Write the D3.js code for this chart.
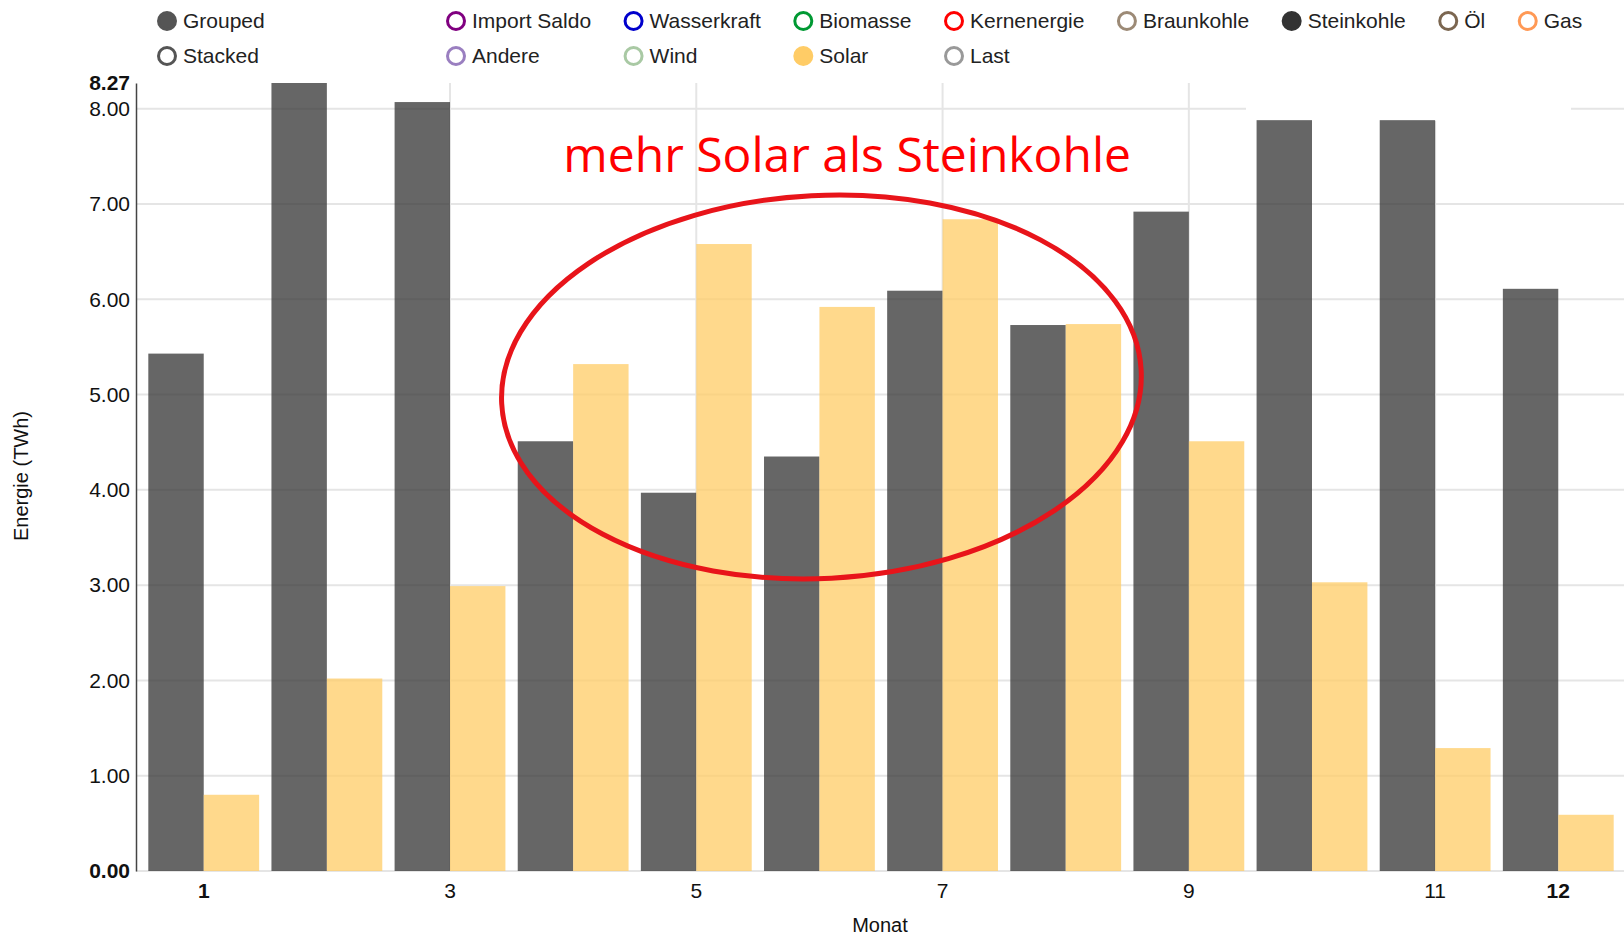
<!DOCTYPE html>
<meta charset="utf-8">

<style>
  body { margin: 0; background: #fff; }
  text { font-family: "Liberation Sans", Arial, sans-serif; }
  .grid line { stroke: #e5e5e5; stroke-width: 2px; }
  .tick text { font-size: 21px; fill: #111; }
</style>

<body>
  <div id="chart"></div>

  <script src="https://d3js.org/d3.v7.min.js"></script>
  <script>

    // data (TWh per month)
    var months = ["1", "2", "3", "4", "5", "6", "7", "8", "9", "10", "11", "12"];
    var steinkohle = [5.43, 8.27, 8.07, 4.51, 3.97, 4.35, 6.09, 5.73, 6.92, 7.88, 7.88, 6.11];
    var solar = [0.80, 2.02, 2.99, 5.32, 6.58, 5.92, 6.84, 5.74, 4.51, 3.03, 1.29, 0.59];
    var seriesNames = ["Steinkohle", "Solar"];
    var seriesColors = ["#333333", "#ffcc66"];

    var yTicks = [1, 2, 3, 4, 5, 6, 7, 8];
    var xTicks = ["3", "5", "7", "9", "11"];

    // legend
    var controlNames = ["Grouped", "Stacked"];
    var legendRow1 = ["Import Saldo", "Wasserkraft", "Biomasse", "Kernenergie", "Braunkohle", "Steinkohle", "Öl", "Gas"];
    var legendRow2 = ["Andere", "Wind", "Solar", "Last"];
    var legendColors = {
      "Import Saldo": "#800080", "Wasserkraft": "#0000cc", "Biomasse": "#009933",
      "Kernenergie": "#ff0000", "Braunkohle": "#9c8a76", "Steinkohle": "#333333",
      "Öl": "#7b6650", "Gas": "#ff9955", "Andere": "#9a7fc0", "Wind": "#a9c9a4",
      "Solar": "#ffcc66", "Last": "#999999"
    };

    var annotation = "mehr Solar als Steinkohle";

    var W = 1624, H = 938;
    var margin = { top: 83, left: 136, bottom: 67, right: -2 };

    var svg = d3.select("#chart").append("svg")
      .attr("width", W)
      .attr("height", H);

    var x = d3.scaleBand()
      .domain(months)
      .range([margin.left, W - margin.right])
      .paddingInner(0.1)
      .paddingOuter(0.1);

    var x1 = d3.scaleBand()
      .domain(seriesNames)
      .range([0, x.bandwidth()]);

    var yMax = d3.max(steinkohle.concat(solar));
    var y = d3.scaleLinear()
      .domain([0, yMax])
      .range([H - margin.bottom, margin.top]);

    // grid lines
    var grid = svg.append("g").attr("class", "grid");
    grid.selectAll(".h")
      .data([0].concat(yTicks))
      .enter().append("line")
      .attr("x1", margin.left).attr("x2", W)
      .attr("y1", d => y(d)).attr("y2", d => y(d));
    grid.selectAll(".v")
      .data(xTicks)
      .enter().append("line")
      .attr("x1", d => x(d) + x.bandwidth() / 2).attr("x2", d => x(d) + x.bandwidth() / 2)
      .attr("y1", y(yMax)).attr("y2", y(0));

    // white patch over the top grid line (as in the original)
    svg.append("rect")
      .attr("x", 1246).attr("y", 76)
      .attr("width", 325).attr("height", 45)
      .attr("fill", "#fff");

    // bars
    var rows = months.map(function (m, i) {
      return { month: m, values: [steinkohle[i], solar[i]] };
    });

    var groups = svg.append("g").selectAll("g")
      .data(rows)
      .enter().append("g")
      .attr("transform", d => "translate(" + x(d.month) + ",0)");

    groups.selectAll("rect")
      .data(d => d.values.map((v, k) => ({ key: seriesNames[k], value: v, color: seriesColors[k] })))
      .enter().append("rect")
      .attr("x", d => x1(d.key))
      .attr("width", x1.bandwidth())
      .attr("y", d => y(d.value))
      .attr("height", d => y(0) - y(d.value))
      .attr("fill", d => d.color)
      .attr("fill-opacity", 0.75);

    // y axis
    var yAxis = svg.append("g")
      .attr("transform", "translate(" + margin.left + ",0)")
      .call(d3.axisLeft(y).tickValues(yTicks).tickSize(0).tickPadding(6).tickFormat(d3.format(".2f")));
    yAxis.select(".domain").attr("stroke", "#444").attr("stroke-width", 1.5);

    [0, yMax].forEach(function (v) {
      yAxis.append("text")
        .attr("x", -6).attr("y", y(v)).attr("dy", "0.32em")
        .attr("text-anchor", "end")
        .style("font-size", "21px").style("font-weight", "bold").attr("fill", "#111")
        .text(d3.format(".2f")(v));
    });

    // x axis
    var xAxis = svg.append("g")
      .attr("transform", "translate(0," + y(0) + ")")
      .call(d3.axisBottom(x).tickValues(xTicks).tickSize(0).tickPadding(12));
    xAxis.select(".domain").remove();

    [months[0], months[months.length - 1]].forEach(function (m) {
      xAxis.append("text")
        .attr("x", x(m) + x.bandwidth() / 2).attr("y", 12).attr("dy", "0.71em")
        .attr("text-anchor", "middle")
        .style("font-size", "21px").style("font-weight", "bold").attr("fill", "#111")
        .text(m);
    });

    // axis titles
    svg.append("text")
      .attr("transform", "translate(22," + 476 + ") rotate(-90)")
      .attr("text-anchor", "middle").attr("dy", "0.32em")
      .style("font-size", "20px").attr("fill", "#111")
      .text("Energie (TWh)");

    svg.append("text")
      .attr("x", 880).attr("y", 932)
      .attr("text-anchor", "middle")
      .style("font-size", "20px").attr("fill", "#111")
      .text("Monat");

    // legend: controls
    var legend = svg.append("g");
    controlNames.forEach(function (name, i) {
      var cy = 21 + i * 35;
      legend.append("circle")
        .attr("cx", 167).attr("cy", cy).attr("r", 8.5)
        .attr("fill", i === 0 ? "#555" : "#fff")
        .attr("stroke", "#555").attr("stroke-width", 3);
      legend.append("text")
        .attr("x", 183).attr("y", cy).attr("dy", "0.32em")
        .style("font-size", "21px").attr("fill", "#222")
        .text(name);
    });

    // legend: series, laid out in columns
    var legendRows = [legendRow1, legendRow2];
    var items = [];
    legendRows.forEach(function (row, r) {
      row.forEach(function (name, c) {
        var t = legend.append("text")
          .attr("y", 21 + r * 35).attr("dy", "0.32em")
          .style("font-size", "21px").attr("fill", "#222")
          .text(name);
        items.push({ name: name, row: r, col: c, text: t, w: t.node().getComputedTextLength() });
      });
    });

    var colX = [456];
    for (var c = 0; c < legendRow1.length - 1; c++) {
      var w = d3.max(items.filter(d => d.col === c), d => d.w);
      colX.push(colX[c] + 16 + w + 42.5);
    }

    items.forEach(function (d) {
      var cx = colX[d.col], cy = 21 + d.row * 35;
      var filled = seriesNames.indexOf(d.name) >= 0;
      d.text.attr("x", cx + 16);
      legend.append("circle")
        .attr("cx", cx).attr("cy", cy).attr("r", 8.5)
        .attr("fill", filled ? legendColors[d.name] : "#fff")
        .attr("stroke", legendColors[d.name]).attr("stroke-width", 3);
    });

    // annotation
    svg.append("text")
      .attr("x", x("6") + x.bandwidth() * 0.75)
      .attr("y", y(7.34))
      .attr("text-anchor", "middle")
      .style("font-family", "'Open Sans', sans-serif")
      .style("font-size", "48px")
      .attr("fill", "#ff0000")
      .text(annotation);

    svg.append("ellipse")
      .attr("cx", x("6") + x.bandwidth() / 2 + 2)
      .attr("cy", y(5.08))
      .attr("rx", x.step() * 2.6)
      .attr("ry", y(0) - y(2.01))
      .attr("transform", "rotate(-3," + (x("6") + x.bandwidth() / 2 + 2) + "," + y(5.08) + ")")
      .attr("fill", "none")
      .attr("stroke", "#e8141a")
      .attr("stroke-width", 5);

  </script>
</body>
